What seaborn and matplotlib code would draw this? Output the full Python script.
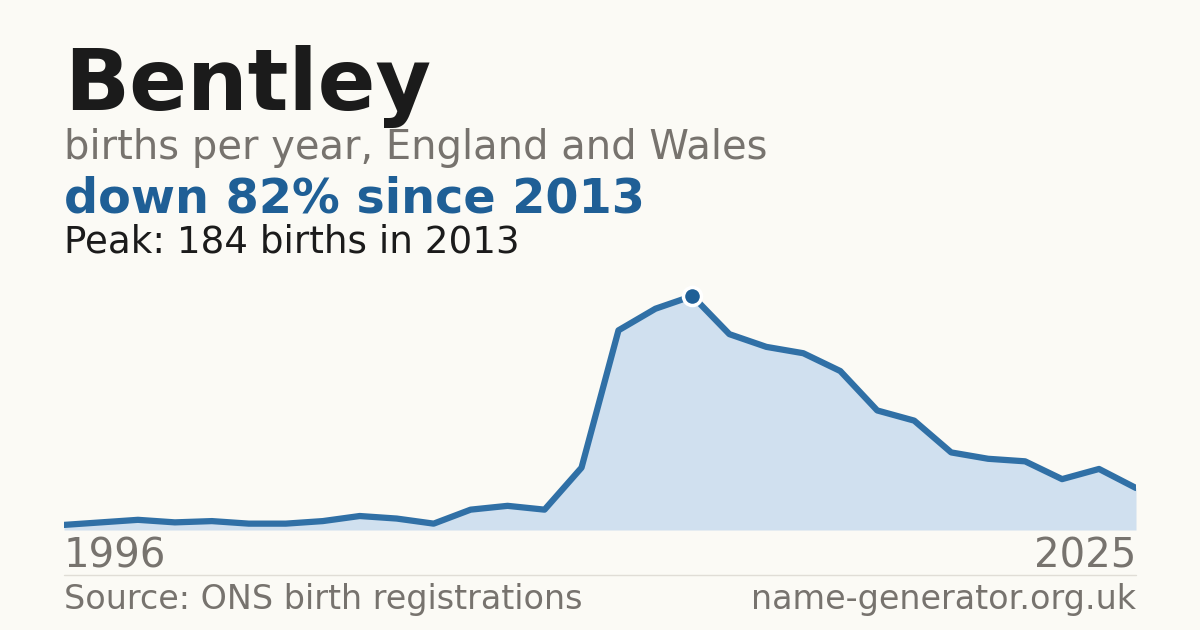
import matplotlib
matplotlib.use("Agg")
import matplotlib.pyplot as plt
import seaborn as sns
import pandas as pd

years = list(range(1996, 2026))
births = [4, 6, 8, 6, 7, 5, 5, 7, 11, 9, 5, 16, 19, 16, 49, 157, 174, 184,
          154, 144, 139, 125, 94, 86, 61, 56, 54, 40, 48, 33]
peak_year, peak_val = 2013, 184

sns.set_theme(style="white")
plt.rcParams['font.family'] = ['DejaVu Sans']
bg = "#fbfaf5"
fig = plt.figure(figsize=(12, 6.3), dpi=100, facecolor=bg)
ax = fig.add_axes([64/1200, 100/630, 1072/1200, 234/630])
ax.set_facecolor(bg)
df = pd.DataFrame({"year": years, "births": births})
ax.fill_between(df.year, df.births, 0, color="#d0e0ef", lw=0)
sns.lineplot(data=df, x="year", y="births", ax=ax, color="#3070a6", lw=4.5)
ax.plot([peak_year], [peak_val], "o", ms=13, color="#1f5f96",
        mec="white", mew=2.5, clip_on=False, zorder=5)
ax.set_xlim(1996, 2025); ax.set_ylim(0, 184)
ax.axis("off")

gray = "#77736e"
fig.text(64/1200, 1-87/630, "Bentley", fontsize=61.5, fontweight="bold", color="#1b1b1b", va="center")
fig.text(64/1200, 1-148/630, "births per year, England and Wales", fontsize=28.8, color=gray, va="center")
fig.text(64/1200, 1-199/630, "down 82% since 2013", fontsize=34.4, fontweight="bold", color="#1f5f96", va="center")
fig.text(64/1200, 1-242/630, "Peak: 184 births in 2013", fontsize=26.8, color="#1b1b1b", va="center")
fig.text(64/1200, 1-556/630, "1996", fontsize=29, color=gray, va="center")
fig.text(1136/1200, 1-556/630, "2025", fontsize=29, color=gray, va="center", ha="right")
fig.add_artist(plt.Line2D([64/1200, 1136/1200], [1-575/630]*2, color="#e0ddd6", lw=1))
fig.text(64/1200, 1-600/630, "Source: ONS birth registrations", fontsize=24, color=gray, va="center")
fig.text(1136/1200, 1-600/630, "name-generator.org.uk", fontsize=24, color=gray, va="center", ha="right")
fig.savefig("out.png", dpi=100, facecolor=bg)
